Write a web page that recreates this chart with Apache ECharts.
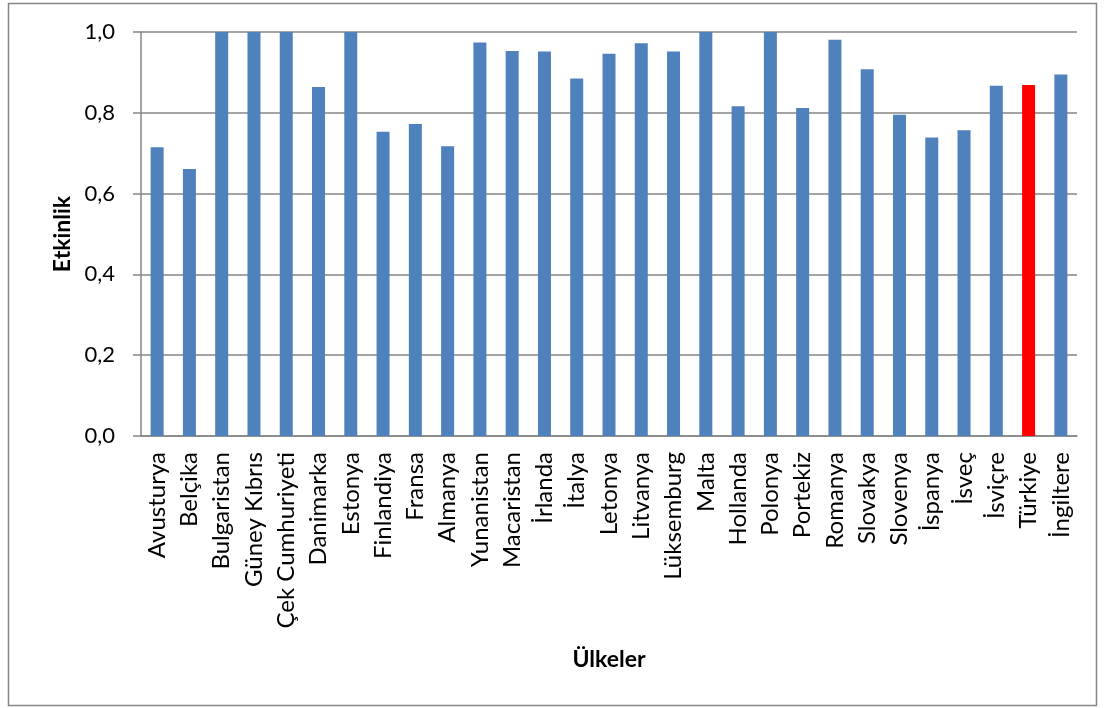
<!DOCTYPE html>
<html>
<head>
<meta charset="utf-8">
<style>
  html, body { margin: 0; padding: 0; background: #ffffff; }
  #chart { width: 1105px; height: 708px; }
</style>
<script src="https://cdn.jsdelivr.net/npm/echarts@6/dist/echarts.min.js"></script>
</head>
<body>
<div id="chart"></div>
<script>
// Ülkelerin etkinlik skorları
const countries = [
  'Avusturya', 'Belçika', 'Bulgaristan', 'Güney Kıbrıs', 'Çek Cumhuriyeti',
  'Danimarka', 'Estonya', 'Finlandiya', 'Fransa', 'Almanya',
  'Yunanistan', 'Macaristan', 'İrlanda', 'İtalya', 'Letonya',
  'Litvanya', 'Lüksemburg', 'Malta', 'Hollanda', 'Polonya',
  'Portekiz', 'Romanya', 'Slovakya', 'Slovenya', 'İspanya',
  'İsveç', 'İsviçre', 'Türkiye', 'İngiltere'
];
const efficiency = [
  0.715, 0.661, 1.000, 1.000, 1.000,
  0.864, 1.000, 0.753, 0.772, 0.717,
  0.974, 0.953, 0.952, 0.885, 0.946,
  0.972, 0.952, 1.000, 0.816, 1.000,
  0.812, 0.981, 0.908, 0.795, 0.739,
  0.757, 0.867, 0.869, 0.895
];
const highlighted = 'Türkiye';
const yTicks = [0, 0.2, 0.4, 0.6, 0.8, 1.0];

const FONT = 'Lato';
const chart = echarts.init(document.getElementById('chart'), null, { renderer: 'canvas' });

chart.setOption({
  animation: false,
  backgroundColor: '#ffffff',
  textStyle: { fontFamily: FONT },
  grid: { left: 141, top: 32, right: 28, bottom: 272, containLabel: false },
  graphic: [{
    type: 'rect',
    shape: { x: 8.5, y: 3.5, width: 1088, height: 702 },
    style: { fill: 'none', stroke: '#868686', lineWidth: 1.5 },
    silent: true
  }],
  xAxis: {
    type: 'category',
    data: countries,
    name: 'Ülkeler',
    nameLocation: 'middle',
    nameGap: 212,
    nameTextStyle: { fontFamily: FONT, fontWeight: 'bold', fontSize: 23, color: '#000' },
    axisLine: { lineStyle: { color: '#868686', width: 1.5 } },
    axisTick: { show: false },
    axisLabel: {
      rotate: 90, interval: 0, margin: 16,
      fontFamily: FONT, fontSize: 24, color: '#000'
    }
  },
  yAxis: {
    type: 'value',
    min: 0, max: 1, interval: 0.2,
    name: 'Etkinlik',
    nameLocation: 'middle',
    nameGap: 67,
    nameRotate: 90,
    nameTextStyle: { fontFamily: FONT, fontWeight: 'bold', fontSize: 23, color: '#000' },
    axisLine: { show: true, lineStyle: { color: '#868686', width: 1.5 } },
    axisTick: { show: true, length: 8, lineStyle: { color: '#868686', width: 1.5 } },
    splitLine: { lineStyle: { color: '#868686', width: 1.5 } },
    axisLabel: {
      margin: 26, fontFamily: FONT, fontSize: 22, color: '#000',
      formatter: v => {
        const t = yTicks.find(x => Math.abs(x - v) < 1e-9);
        return (t === undefined ? v : t).toFixed(1).replace('.', ',');
      }
    }
  },
  series: [{
    type: 'bar',
    barWidth: 13,
    data: efficiency.map((v, i) => ({
      value: v,
      itemStyle: { color: countries[i] === highlighted ? '#ff0000' : '#4f81bd' }
    }))
  }]
});
</script>
</body>
</html>
